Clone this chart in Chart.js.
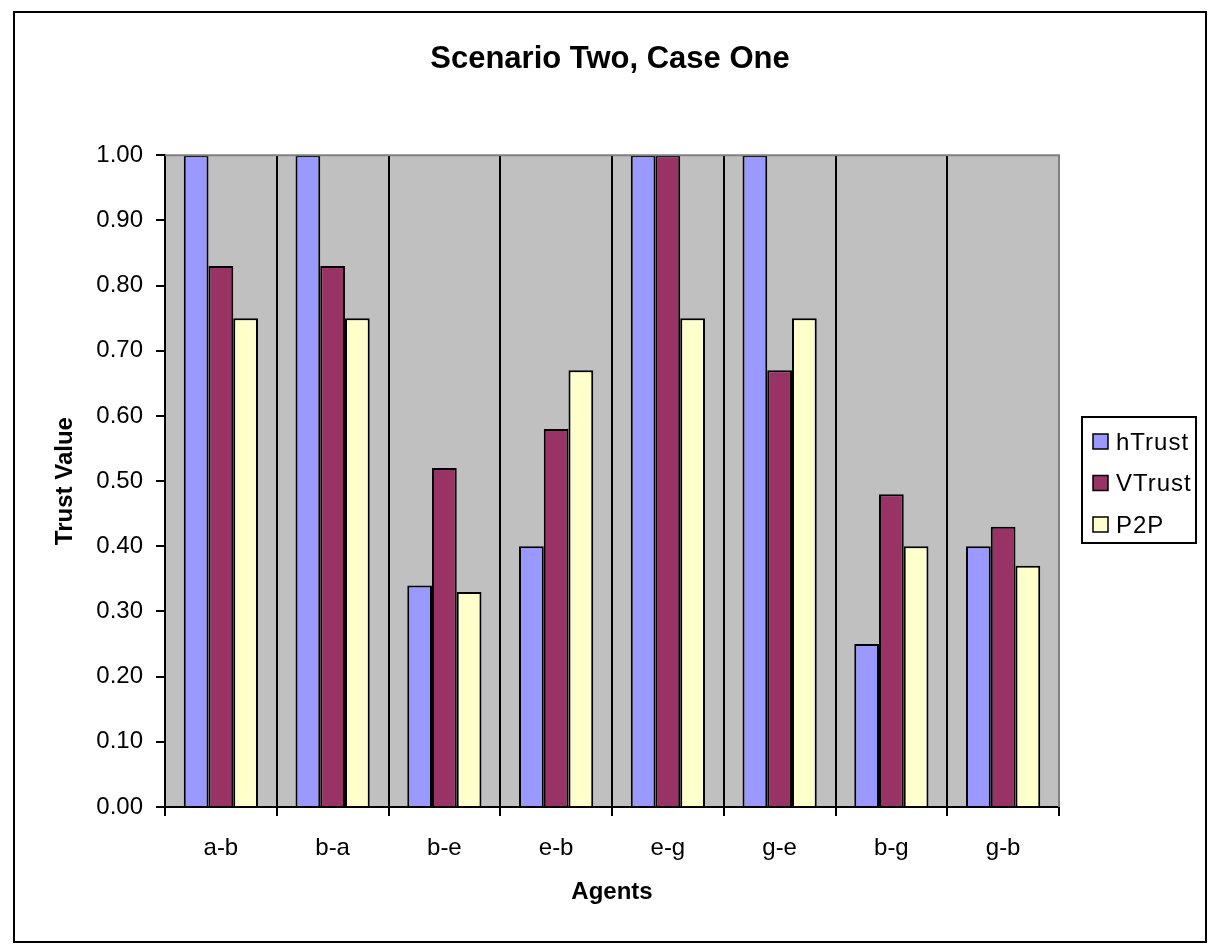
<!DOCTYPE html>
<html>
  <head>
    <script src="https://cdn.jsdelivr.net/npm/chart.js@4.4.1/dist/chart.umd.min.js"></script>
    <style>
      body { margin: 0; background: #fff; }
      #wrap { width: 1211px; height: 944px; position: relative; }
    </style>
  </head>
  <body>
    <div id="wrap">
      <canvas id="trustChart" width="1211" height="944"></canvas>
    </div>
    <script>
      // data
      var agents = ['a-b', 'b-a', 'b-e', 'e-b', 'e-g', 'g-e', 'b-g', 'g-b'];
      var hTrust = [1.00, 1.00, 0.34, 0.40, 1.00, 1.00, 0.25, 0.40];
      var vTrust = [0.83, 0.83, 0.52, 0.58, 1.00, 0.67, 0.48, 0.43];
      var p2p    = [0.75, 0.75, 0.33, 0.67, 0.75, 0.75, 0.40, 0.37];
      var seriesNames = ['hTrust', 'VTrust', 'P2P'];
      var seriesColors = ['#9999FF', '#993366', '#FFFFCC'];

      var FONT = "'Liberation Sans', Arial, sans-serif";

      // grey plot area + grey top/right edge, outer frame, legend box
      var excelLook = {
        id: 'excelLook',
        beforeDraw: function(chart) {
          var a = chart.chartArea, ctx = chart.ctx;
          ctx.save();
          ctx.fillStyle = '#C0C0C0';
          ctx.fillRect(a.left, a.top, a.right - a.left, a.bottom - a.top);
          ctx.restore();
        },
        afterDraw: function(chart) {
          var a = chart.chartArea, ctx = chart.ctx;
          ctx.save();
          ctx.strokeStyle = '#808080';
          ctx.lineWidth = 2;
          ctx.beginPath();
          ctx.moveTo(a.left, a.top);
          ctx.lineTo(a.right, a.top);
          ctx.lineTo(a.right, a.bottom);
          ctx.stroke();

          // outer frame
          ctx.strokeStyle = '#000';
          ctx.lineWidth = 2;
          ctx.strokeRect(14, 12, 1192, 930);

          // legend
          ctx.strokeRect(1082, 417, 114, 126);
          ctx.font = '24px ' + FONT;
          ctx.letterSpacing = '1px';
          ctx.textBaseline = 'middle';
          ctx.textAlign = 'left';
          chart.data.datasets.forEach(function(ds, i) {
            var cy = 442 + i * 41.5;
            ctx.fillStyle = ds.backgroundColor;
            ctx.fillRect(1093, cy - 8, 15, 15);
            ctx.lineWidth = 1.5;
            ctx.strokeRect(1093, cy - 8, 15, 15);
            ctx.fillStyle = '#000';
            ctx.fillText(ds.label, 1116, cy + 1);
          });
          ctx.restore();
        }
      };

      var datasets = [hTrust, vTrust, p2p].map(function(vals, i) {
        return {
          label: seriesNames[i],
          data: vals,
          backgroundColor: seriesColors[i],
          borderColor: '#000',
          borderWidth: 2,
          categoryPercentage: 0.664,
          barPercentage: 1.0
        };
      });

      new Chart(document.getElementById('trustChart').getContext('2d'), {
        type: 'bar',
        data: { labels: agents, datasets: datasets },
        plugins: [excelLook],
        options: {
          responsive: false,
          animation: false,
          layout: { padding: { left: 14, right: 5, top: 12, bottom: 2 } },
          plugins: {
            legend: { display: false },
            tooltip: { enabled: false },
            title: {
              display: true,
              text: 'Scenario Two, Case One',
              color: '#000',
              font: { family: FONT, size: 31, weight: 'bold' },
              padding: { top: 29, bottom: 77 }
            }
          },
          scales: {
            x: {
              afterFit: function(s) { s.height = 135; },
              grid: { color: '#000', lineWidth: 2, tickLength: 9, offset: true },
              border: { color: '#000', width: 2 },
              ticks: { color: '#000', padding: 18, font: { family: FONT, size: 24 } },
              title: {
                display: true, text: 'Agents', color: '#000',
                font: { family: FONT, size: 24, weight: 'bold' },
                padding: { top: 0, bottom: 35 }
              }
            },
            y: {
              min: 0, max: 1,
              afterFit: function(s) { s.width = 151; },
              grid: { drawOnChartArea: false, color: '#000', lineWidth: 2, tickLength: 9 },
              border: { color: '#000', width: 2 },
              ticks: {
                stepSize: 0.1, color: '#000', padding: 13,
                font: { family: FONT, size: 24 },
                callback: function(v) { return v.toFixed(2); }
              },
              title: {
                display: true, text: 'Trust Value', color: '#000',
                font: { family: FONT, size: 24, weight: 'bold' },
                padding: { top: 37, bottom: 0 }
              }
            },
            // empty right axis that only keeps room for the legend
            legendSpace: {
              type: 'linear', position: 'right',
              afterFit: function(s) { s.width = 147; },
              grid: { display: false },
              border: { display: false },
              ticks: { display: false }
            }
          }
        }
      });
    </script>
  </body>
</html>
